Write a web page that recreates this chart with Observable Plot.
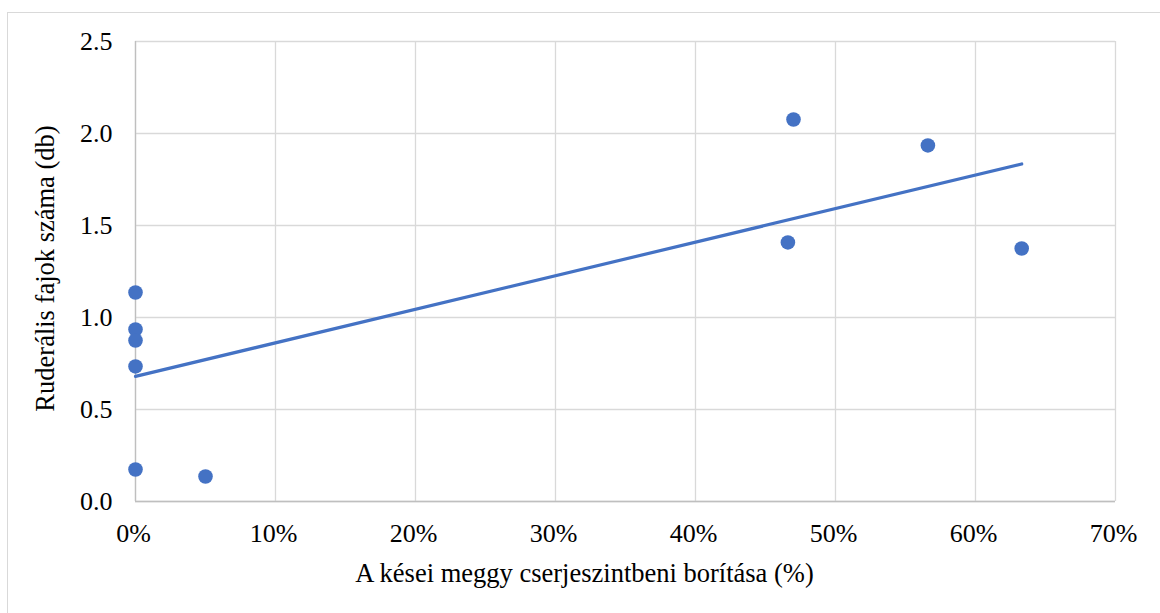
<!DOCTYPE html>
<html>
<head>
<meta charset="utf-8">
<script src="https://cdn.jsdelivr.net/npm/d3@7"></script>
<script src="https://cdn.jsdelivr.net/npm/@observablehq/plot@0.6"></script>
<style>
  html, body { margin: 0; padding: 0; background: #fff; }
  #wrap { position: relative; width: 1160px; height: 613px; overflow: hidden; }
  #border { position: absolute; left: 7px; top: 12px; width: 1200px; height: 700px;
            border-top: 1px solid #d9d9d9; border-left: 1.5px solid #d9d9d9; box-sizing: border-box; }
  #chart { position: absolute; left: 0; top: 0; }
</style>
</head>
<body>
<div id="wrap">
  <div id="border"></div>
  <div id="chart"></div>
</div>
<script>
// Data
const coverage = [0, 0, 0, 0, 0, 0.05, 0.470, 0.466, 0.566, 0.633];
const species  = [1.136, 0.935, 0.875, 0.734, 0.174, 0.136, 2.076, 1.408, 1.935, 1.375];
const xTicks = [0, 0.1, 0.2, 0.3, 0.4, 0.5, 0.6, 0.7];
const yTicks = [0, 0.5, 1.0, 1.5, 2.0, 2.5];
const xTitle = "A kései meggy cserjeszintbeni borítása (%)";
const yTitle = "Ruderális fajok száma (db)";

const data = coverage.map((c, i) => ({x: c, y: species[i]}));
const blue = "#4472C4";
const serif = "'Liberation Serif', 'Times New Roman', serif";

const chart = Plot.plot({
  width: 1160,
  height: 613,
  marginLeft: 135,
  marginRight: 45,
  marginTop: 41,
  marginBottom: 112,
  style: {
    fontFamily: serif,
    fontSize: "25px",
    color: "#000",
    background: "transparent"
  },
  x: {domain: [0, 0.7], label: null},
  y: {domain: [0, 2.5], label: null},
  marks: [
    Plot.gridX(xTicks, {stroke: "#d9d9d9", strokeOpacity: 1, strokeWidth: 1.3}),
    Plot.gridY(yTicks, {stroke: "#d9d9d9", strokeOpacity: 1, strokeWidth: 1.3}),
    Plot.ruleX([0], {stroke: "#bfbfbf", strokeWidth: 1.3}),
    Plot.ruleY([0], {stroke: "#bfbfbf", strokeWidth: 1.3}),
    Plot.axisX(xTicks, {tickSize: 0, tickPadding: 22, dx: -2, tickFormat: d3.format(".0%"), fontSize: 26, fontFamily: serif, fill: "#000", label: null}),
    Plot.axisY(yTicks, {tickSize: 0, tickPadding: 23, tickFormat: d3.format(".1f"), fontSize: 26, fontFamily: serif, fill: "#000", label: null}),
    Plot.linearRegressionY(data, {x: "x", y: "y", stroke: blue, strokeWidth: 3.2, ci: 0}),
    Plot.dot(data, {x: "x", y: "y", r: 7.3, fill: blue, stroke: null}),
    Plot.text([xTitle], {frameAnchor: "bottom", dy: 80, dx: -41, fontSize: 26.5, fontFamily: serif, fill: "#000"}),
    Plot.text([yTitle], {frameAnchor: "left", textAnchor: "middle", dx: -90, dy: -3, rotate: -90, fontSize: 26.5, fontFamily: serif, fill: "#000"})
  ]
});
document.getElementById("chart").appendChild(chart);
</script>
</body>
</html>
